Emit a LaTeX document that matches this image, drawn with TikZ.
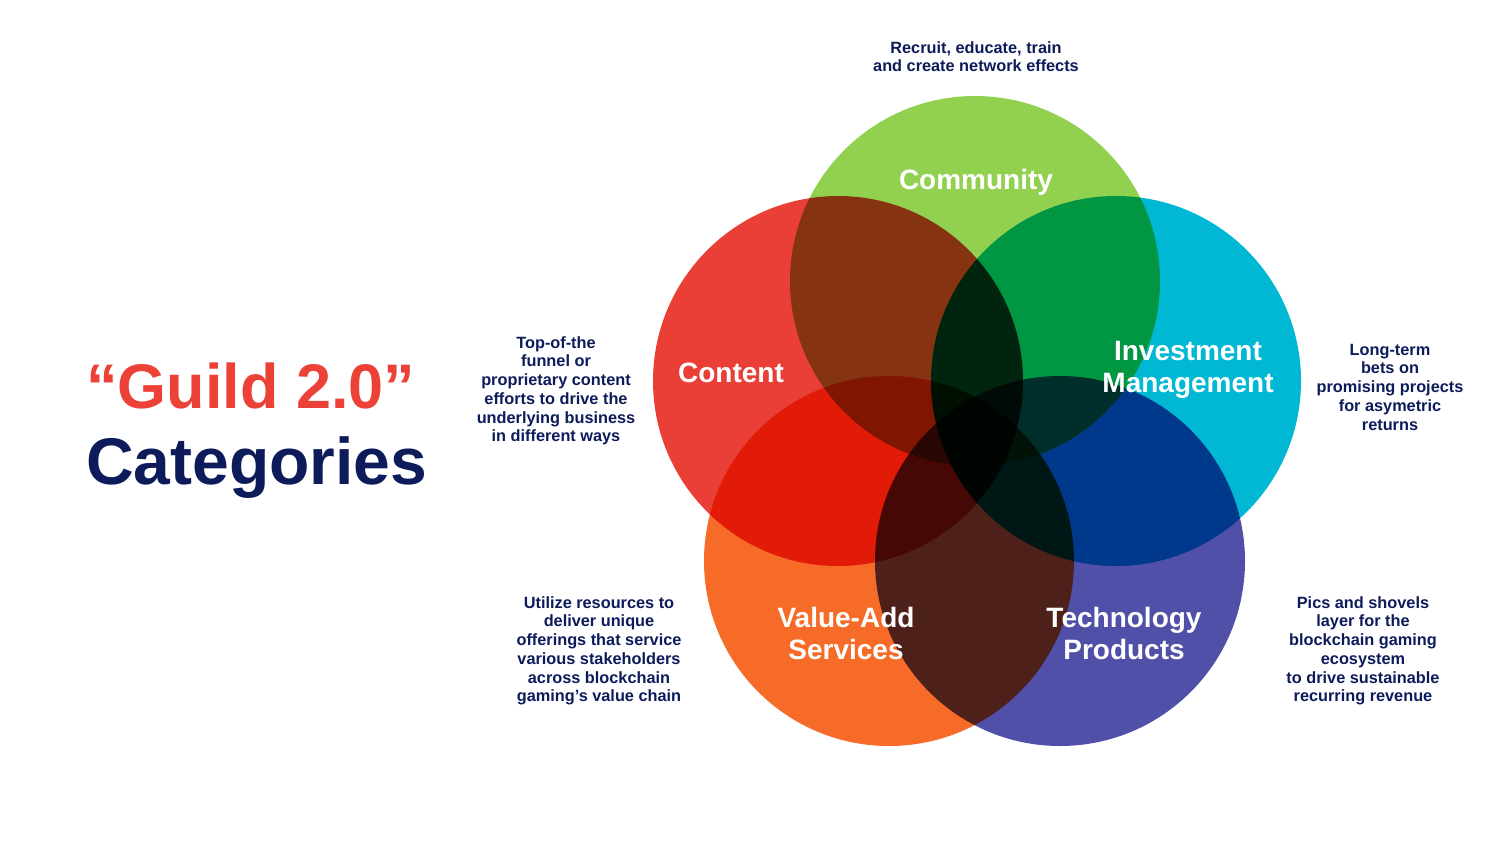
\documentclass[tikz,border=0pt]{standalone}
\usepackage{fontspec}
\setmainfont{Liberation Sans}
\definecolor{commC}{HTML}{92D050}
\definecolor{contC}{HTML}{EA3F36}
\definecolor{invC}{HTML}{00B8D4}
\definecolor{vaC}{HTML}{F76B28}
\definecolor{techC}{HTML}{5050A8}
\definecolor{navy}{HTML}{0D1B5B}
\definecolor{titlered}{HTML}{EC4136}
\tikzset{
  venn/.style={circle, minimum size=370pt, inner sep=0pt, draw=none},
  clabel/.style={text=white, font=\bfseries\fontsize{28}{32}\selectfont, align=center, anchor=base, inner sep=0pt},
  desc/.style={text=navy, font=\bfseries\fontsize{16.3}{18.7}\selectfont, align=center, anchor=base, inner sep=0pt},
  ttl/.style={font=\bfseries\fontsize{66}{70}\selectfont, anchor=base west, inner sep=0pt}
}
\begin{document}
\begin{tikzpicture}[x=1pt,y=-1pt]
\useasboundingbox (0,0) rectangle (1500,844);
\fill[white] (0,0) rectangle (1500,844);
\begin{scope}[blend group=multiply]
  \node[venn, fill=commC] (comm) at (975,281) {};
  \node[venn, fill=contC] (cont) at (838,381) {};
  \node[venn, fill=invC] (inv) at (1116,381) {};
  \node[venn, fill=vaC] (va) at (889,561) {};
  \node[venn, fill=techC] (tech) at (1060,561) {};
\end{scope}
% circle labels (anchor at last line baseline)
\node[clabel] (commL) at (976,189) {Community};
\node[clabel] (contL) at (731,382) {Content};
\node[clabel] (invL) at (1188,392) {Investment\\Management};
\node[clabel] (vaL) at (846,659) {Value-Add\\Services};
\node[clabel] (techL) at (1124,659) {Technology\\Products};
% descriptions
\node[desc] (commD) at (976,71.7) {Recruit, educate, train\\and create network effects};
\node[desc] (contD) at (556,441.7) {Top-of-the\\funnel or\\proprietary content\\efforts to drive the\\underlying business\\in different ways};
\node[desc] (invD) at (1390,430) {Long-term\\bets on\\promising projects\\for asymetric\\returns};
\node[desc] (vaD) at (599,701.7) {Utilize resources to\\deliver unique\\offerings that service\\various stakeholders\\across blockchain\\gaming’s value chain};
\node[desc] (techD) at (1363,701.7) {Pics and shovels\\layer for the\\blockchain gaming\\ecosystem\\to drive sustainable\\recurring revenue};
% title
\node[ttl, text=titlered, font=\bfseries\fontsize{63}{70}\selectfont] (t1) at (86,408) {“Guild 2.0”};
\node[ttl, text=navy] (t2) at (86,484) {Categories};
\end{tikzpicture}
\end{document}
